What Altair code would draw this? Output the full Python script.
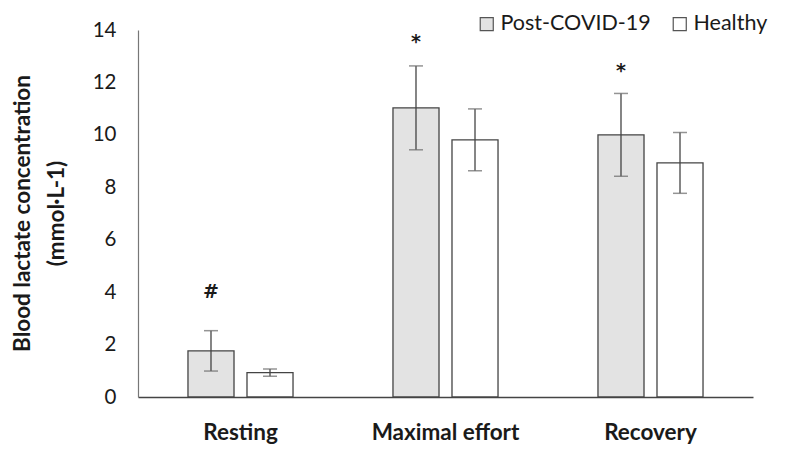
import altair as alt
import pandas as pd

phases = ["Resting", "Maximal effort", "Recovery"]
groups = ["Post-COVID-19", "Healthy"]
post_mean = [1.76, 11.03, 10.0]
post_sd = [0.77, 1.6, 1.58]
healthy_mean = [0.93, 9.81, 8.93]
healthy_sd = [0.14, 1.18, 1.16]
marks = ["#", "*", "*"]
mark_y = [4.0, 13.55, 12.45]

rows = []
for i, p in enumerate(phases):
    rows.append({"phase": p, "group": groups[0], "mean": post_mean[i],
                 "lo": post_mean[i] - post_sd[i], "hi": post_mean[i] + post_sd[i]})
    rows.append({"phase": p, "group": groups[1], "mean": healthy_mean[i],
                 "lo": healthy_mean[i] - healthy_sd[i], "hi": healthy_mean[i] + healthy_sd[i]})
df = pd.DataFrame(rows)
ann = pd.DataFrame({"phase": phases, "group": [groups[0]] * 3, "txt": marks, "y": mark_y})

FONT = "Lato"
xenc = alt.X("phase:N", sort=phases,
             scale=alt.Scale(paddingInner=0, paddingOuter=0),
             axis=alt.Axis(title=None, labelAngle=0, labelFont=FONT, labelFontSize=22.5,
                           labelFontWeight="bold", labelColor="#1a1a1a", ticks=False,
                           labelPadding=24, domainColor="#444444", domainWidth=1.3))
xoff = alt.XOffset("group:N", sort=groups,
                   scale=alt.Scale(paddingInner=0.22, paddingOuter=0.847))
yscale = alt.Scale(domain=[0, 14])

bars = alt.Chart(df).mark_bar(stroke="#444444", strokeWidth=1.3).encode(
    x=xenc, xOffset=xoff,
    y=alt.Y("mean:Q", scale=yscale,
            axis=alt.Axis(values=[0, 2, 4, 6, 8, 10, 12, 14], grid=False, ticks=False,
                          labelFont=FONT, labelFontSize=20.5, labelColor="#1a1a1a",
                          labelPadding=22, domainColor="#777777", domainWidth=1.2,
                          title=["Blood lactate concentration", "(mmol·L-1)"],
                          titleFont=FONT, titleFontSize=22.5, titleFontWeight="bold",
                          titleColor="#1a1a1a", titleAngle=-90, titleX=-104,
                          titleY=183, titleAlign="center", titleBaseline="bottom",
                          titleLineHeight=34)),
    fill=alt.Fill("group:N", sort=groups,
                  scale=alt.Scale(domain=groups, range=["#e3e3e3", "#ffffff"]),
                  legend=alt.Legend(title=None, orient="none", direction="horizontal",
                                    legendX=338, legendY=-17, symbolType="square",
                                    symbolSize=170, symbolStrokeColor="#555555",
                                    symbolStrokeWidth=1.2, labelFont=FONT,
                                    labelFontSize=21.5, labelColor="#1a1a1a",
                                    columnPadding=18, labelOffset=3)),
)

rule = alt.Chart(df).mark_rule(color="#444444", strokeWidth=1.3).encode(
    x=alt.X("phase:N", sort=phases), xOffset=xoff, y="lo:Q", y2="hi:Q")
tlo = alt.Chart(df).mark_tick(color="#666666", size=14, thickness=1.5).encode(
    x=alt.X("phase:N", sort=phases), xOffset=xoff, y="lo:Q")
thi = alt.Chart(df).mark_tick(color="#666666", size=14, thickness=1.5).encode(
    x=alt.X("phase:N", sort=phases), xOffset=xoff, y="hi:Q")

txt = alt.Chart(ann).mark_text(font="DejaVu Sans", fontSize=19, fontWeight="bold",
                               color="#1a1a1a", baseline="middle").encode(
    x=alt.X("phase:N", sort=phases), xOffset=alt.XOffset("group:N", sort=groups),
    y="y:Q", text="txt:N")

chart = alt.layer(bars, rule, tlo, thi, txt).properties(
    width=615, height=367,
    autosize=alt.AutoSizeParams(type="none"),
    padding={"left": 130, "top": 22, "right": 26, "bottom": 50},
).configure_view(stroke=None)

chart.save("out.html", embed_options={"renderer": "svg", "actions": False})
